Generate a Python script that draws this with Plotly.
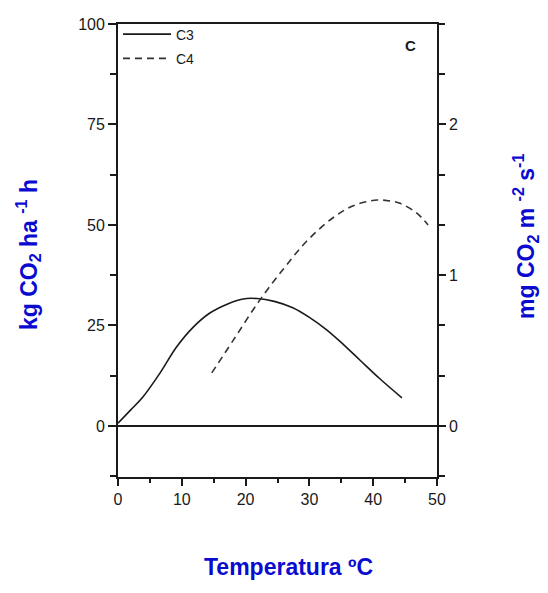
import plotly.graph_objects as go

# Data
c3_temp = [0, 2, 3.9, 6.6, 9.2, 11.8, 14.4, 17.1, 19.6, 21.8, 24.5, 27.4, 30, 32.7, 35.3, 37.9, 41, 44.5]
c3_rate = [0.7, 4.0, 7.2, 13.2, 19.7, 24.6, 28.1, 30.3, 31.6, 31.7, 31.0, 29.4, 27.0, 23.9, 20.3, 16.4, 11.8, 7.0]
c4_temp = [14.7, 18.1, 22.0, 25.9, 29.6, 33.7, 36.9, 40.6, 42.5, 44.2, 46.8, 48.6]
c4_rate = [13.2, 21.4, 30.8, 39.0, 46.0, 51.8, 54.8, 56.2, 56.0, 55.4, 53.0, 50.0]

left_ticks = [0, 25, 50, 75, 100]
right_ticks = [0, 1, 2]
x_ticks = [0, 10, 20, 30, 40, 50]
KG_PER_MG = 37.5
y_min, y_max = -12.7, 100

font = "Liberation Sans, Arial, sans-serif"
blue = "#0a0ad0"
ink = "#1a1a1a"
tickfont = dict(family=font, size=16, color=ink)
titlefont = dict(family=font, size=23, color=blue)

fig = go.Figure()
fig.add_trace(go.Scatter(x=c3_temp, y=c3_rate, mode="lines", name="C3", legendgroup="a",
                         line=dict(color=ink, width=1.6, shape="spline", dash="solid")))
fig.add_trace(go.Scatter(x=c4_temp, y=c4_rate, mode="lines", name="C4", legendgroup="b",
                         line=dict(color="#333333", width=1.6, shape="spline", dash="7px,5px")))
fig.add_trace(go.Scatter(x=[0], y=[0], yaxis="y2", mode="lines", showlegend=False,
                         hoverinfo="skip", line=dict(color="rgba(0,0,0,0)")))

fig.update_layout(
    width=540, height=585,
    margin=dict(l=110, r=111, t=16, b=116, autoexpand=False),
    paper_bgcolor="white", plot_bgcolor="white",
    font=dict(family=font, color="black", size=13),
    showlegend=True,
    legend=dict(x=0.0, y=1.012, xanchor="left", yanchor="top", bgcolor="rgba(0,0,0,0)",
                font=dict(size=14, color=ink), tracegroupgap=3, itemwidth=48),
    xaxis=dict(range=[0, 50], tickvals=x_ticks, ticks="outside", ticklen=7, tickwidth=1.5,
               tickcolor=ink, tickfont=tickfont, showline=True, linecolor=ink, linewidth=1.8, mirror=True,
               showgrid=False, zeroline=False, automargin=False,
               minor=dict(dtick=5, tick0=0, ticks="outside", ticklen=4, tickwidth=1.5, tickcolor=ink)),
    yaxis=dict(range=[y_min, y_max], tickvals=left_ticks, ticks="outside", ticklen=8, tickwidth=1.5,
               tickcolor=ink, tickfont=tickfont, showline=True, linecolor=ink, linewidth=1.8,
               showgrid=False, zeroline=True, zerolinecolor=ink, zerolinewidth=1.8, automargin=False,
               minor=dict(dtick=12.5, tick0=0, ticks="outside", ticklen=6, tickwidth=1.5, tickcolor=ink)),
    yaxis2=dict(range=[y_min / KG_PER_MG, y_max / KG_PER_MG], overlaying="y", side="right",
                tickvals=right_ticks, ticks="outside", ticklen=7, tickwidth=1.5, tickcolor=ink,
                tickfont=tickfont, showline=True, linecolor=ink, linewidth=1.8, showgrid=False,
                zeroline=False, automargin=False,
                minor=dict(dtick=1/3, tick0=0, ticks="outside", ticklen=6, tickwidth=1.5, tickcolor=ink)),
    annotations=[
        dict(x=0.939, y=0.975, xref="paper", yref="paper", text="<b>C</b>", showarrow=False,
             font=dict(size=15, color=ink)),
        dict(x=0.534, y=-0.199, xref="paper", yref="paper", text="<b>Temperatura ºC</b>",
             showarrow=False, font=titlefont, xanchor="center", yanchor="middle"),
        dict(x=-0.282, y=0.49, xref="paper", yref="paper",
             text="<b>kg CO<sub>2</sub> ha <sup>-1</sup> h</b>", textangle=-90,
             showarrow=False, font=titlefont, xanchor="center", yanchor="middle"),
        dict(x=1.276, y=0.53, xref="paper", yref="paper",
             text="<b>mg CO<sub>2</sub> m <sup>-2</sup> s<sup>-1</sup></b>", textangle=-90,
             showarrow=False, font=titlefont, xanchor="center", yanchor="middle"),
    ],
)

fig.write_html("out.html")
